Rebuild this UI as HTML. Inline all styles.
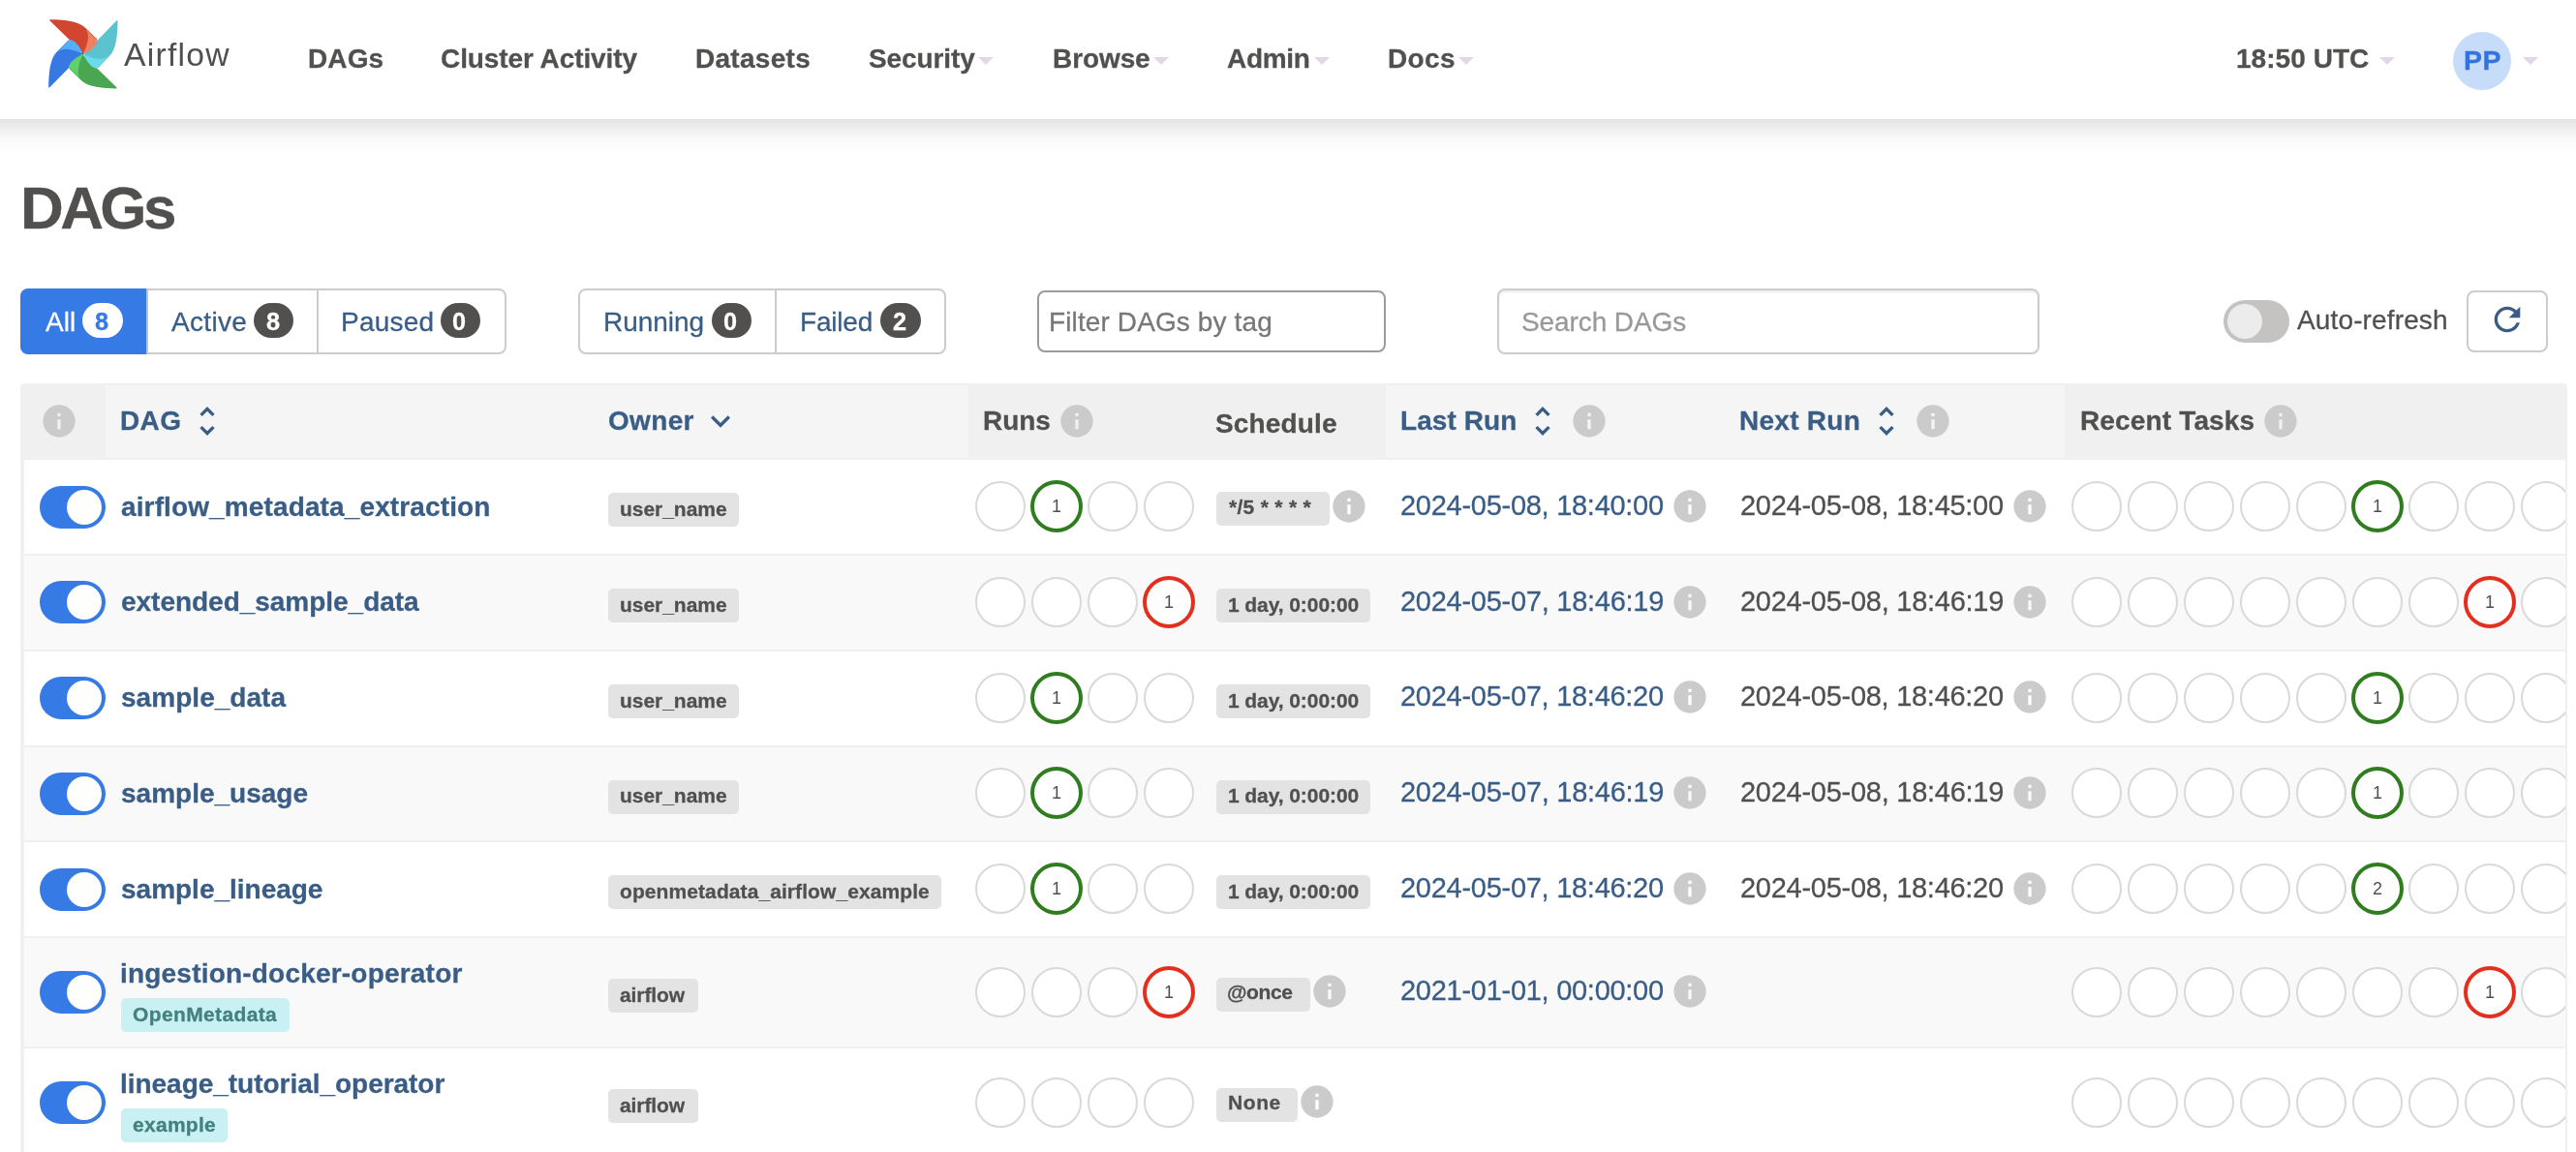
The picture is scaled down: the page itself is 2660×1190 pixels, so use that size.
<!DOCTYPE html>
<html lang="en"><head><meta charset="utf-8"><title>DAGs - Airflow</title>
<style>
html,body{margin:0;padding:0;}
body{width:2660px;height:1190px;overflow:hidden;background:#fff;position:relative;font-family:"Liberation Sans",sans-serif;color:#51504f;}
.a{position:absolute;box-sizing:border-box;}
.t{position:absolute;white-space:pre;will-change:transform;-webkit-text-stroke:0.28px;}
svg.n{will-change:transform;}
svg{display:block;overflow:visible;}
</style></head><body>

<div class="a" style="left:21px;top:396px;width:2630px;height:804px;background:#f0f0f0;border-radius:4px 4px 0 0;overflow:hidden">
<div class="a" style="left:88px;top:2px;width:891px;height:75px;background:#f5f5f5"></div>
<div class="a" style="left:1410px;top:2px;width:701px;height:75px;background:#f5f5f5"></div>
<div class="a" style="left:4px;top:79.00px;width:2624px;height:97.00px;background:#fff"></div>
<div class="a" style="left:4px;top:178.00px;width:2624px;height:96.75px;background:#f9f9f9"></div>
<div class="a" style="left:4px;top:276.75px;width:2624px;height:96.75px;background:#fff"></div>
<div class="a" style="left:4px;top:375.50px;width:2624px;height:96.75px;background:#f9f9f9"></div>
<div class="a" style="left:4px;top:474.25px;width:2624px;height:96.75px;background:#fff"></div>
<div class="a" style="left:4px;top:573.00px;width:2624px;height:112.25px;background:#f9f9f9"></div>
<div class="a" style="left:4px;top:687.25px;width:2624px;height:111.75px;background:#fff"></div>
</div>
<svg class="a" style="left:40.60px;top:414.80px" width="40" height="40" viewBox="0 0 24 24"><path fill="#cbcbcb" d="M12 2C6.48 2 2 6.48 2 12s4.48 10 10 10 10-4.48 10-10S17.52 2 12 2zm1 15h-2v-6h2v6zm0-8h-2V7h2v2z"/></svg>
<div class="t" style="left:124.18px;top:419px;font-size:28px;line-height:31px;color:#3a5d86;font-weight:bold;letter-spacing:0.369px;">DAG</div>
<svg class="a" style="left:193.75px;top:414.75px" width="40" height="40" viewBox="0 0 24 24"><path fill="#3a5d86" d="M12 5.83L15.17 9l1.41-1.41L12 3 7.41 7.59 8.83 9 12 5.83zm0 12.34L8.83 15l-1.41 1.41L12 21l4.59-4.59L15.17 15 12 18.17z"/></svg>
<div class="t" style="left:627.50px;top:419px;font-size:28px;line-height:31px;color:#3a5d86;font-weight:bold;letter-spacing:0.323px;">Owner</div>
<svg class="a" style="left:723.75px;top:415.00px" width="40" height="40" viewBox="0 0 24 24"><path fill="#3a5d86" d="M16.59 8.59L12 13.17 7.41 8.59 6 10l6 6 6-6z"/></svg>
<div class="t" style="left:1015.43px;top:419px;font-size:28px;line-height:31px;color:#51504f;font-weight:bold;letter-spacing:-0.043px;">Runs</div>
<svg class="a" style="left:1092.25px;top:415.00px" width="40" height="40" viewBox="0 0 24 24"><path fill="#cbcbcb" d="M12 2C6.48 2 2 6.48 2 12s4.48 10 10 10 10-4.48 10-10S17.52 2 12 2zm1 15h-2v-6h2v6zm0-8h-2V7h2v2z"/></svg>
<div class="t" style="left:1255.34px;top:422px;font-size:28px;line-height:31px;color:#51504f;font-weight:bold;letter-spacing:0.147px;">Schedule</div>
<div class="t" style="left:1445.93px;top:419px;font-size:28px;line-height:31px;color:#3a5d86;font-weight:bold;letter-spacing:0.076px;">Last Run</div>
<svg class="a" style="left:1573.25px;top:414.75px" width="40" height="40" viewBox="0 0 24 24"><path fill="#3a5d86" d="M12 5.83L15.17 9l1.41-1.41L12 3 7.41 7.59 8.83 9 12 5.83zm0 12.34L8.83 15l-1.41 1.41L12 21l4.59-4.59L15.17 15 12 18.17z"/></svg>
<svg class="a" style="left:1621.00px;top:415.00px" width="40" height="40" viewBox="0 0 24 24"><path fill="#cbcbcb" d="M12 2C6.48 2 2 6.48 2 12s4.48 10 10 10 10-4.48 10-10S17.52 2 12 2zm1 15h-2v-6h2v6zm0-8h-2V7h2v2z"/></svg>
<div class="t" style="left:1796.43px;top:419px;font-size:28px;line-height:31px;color:#3a5d86;font-weight:bold;letter-spacing:0.273px;">Next Run</div>
<svg class="a" style="left:1928.00px;top:414.75px" width="40" height="40" viewBox="0 0 24 24"><path fill="#3a5d86" d="M12 5.83L15.17 9l1.41-1.41L12 3 7.41 7.59 8.83 9 12 5.83zm0 12.34L8.83 15l-1.41 1.41L12 21l4.59-4.59L15.17 15 12 18.17z"/></svg>
<svg class="a" style="left:1975.75px;top:415.00px" width="40" height="40" viewBox="0 0 24 24"><path fill="#cbcbcb" d="M12 2C6.48 2 2 6.48 2 12s4.48 10 10 10 10-4.48 10-10S17.52 2 12 2zm1 15h-2v-6h2v6zm0-8h-2V7h2v2z"/></svg>
<div class="t" style="left:2147.68px;top:419px;font-size:28px;line-height:31px;color:#51504f;font-weight:bold;letter-spacing:0.151px;">Recent Tasks</div>
<svg class="a" style="left:2334.75px;top:415.00px" width="40" height="40" viewBox="0 0 24 24"><path fill="#cbcbcb" d="M12 2C6.48 2 2 6.48 2 12s4.48 10 10 10 10-4.48 10-10S17.52 2 12 2zm1 15h-2v-6h2v6zm0-8h-2V7h2v2z"/></svg>
<div class="a" style="left:0;top:0;width:2649px;height:1190px;overflow:hidden">
<div class="a" style="left:41px;top:502.00px;width:68px;height:44px;border-radius:22px;background:#367ae6"><div class="a" style="left:28px;top:4px;width:36px;height:36px;border-radius:18px;background:#fefefd"></div></div>
<div class="t" style="left:124.83px;top:508px;font-size:28px;line-height:31px;color:#3a5d86;font-weight:bold;letter-spacing:0.126px;">airflow_metadata_extraction</div>
<div class="a" style="left:628px;top:509.00px;width:135px;height:34.5px;border-radius:5px;background:#e3e3e3"></div>
<div class="t" style="left:639.50px;top:514px;font-size:21px;line-height:23px;color:#51504f;font-weight:bold;letter-spacing:-0.034px;">user_name</div>
<svg class="a" style="left:1005.00px;top:495.00px" width="56" height="56" viewBox="-28 -28 56 56"><circle r="25" fill="#fff" stroke="#d9d9d9" stroke-width="2"/></svg>
<svg class="a n" style="left:1063.00px;top:495.00px" width="56" height="56" viewBox="-28 -28 56 56"><circle r="25" fill="#fff" stroke="#2f7d1f" stroke-width="4"/><text x="0" y="5.8" text-anchor="middle" font-family="Liberation Sans, sans-serif" font-size="18" fill="#51504f">1</text></svg>
<svg class="a" style="left:1121.00px;top:495.00px" width="56" height="56" viewBox="-28 -28 56 56"><circle r="25" fill="#fff" stroke="#d9d9d9" stroke-width="2"/></svg>
<svg class="a" style="left:1179.00px;top:495.00px" width="56" height="56" viewBox="-28 -28 56 56"><circle r="25" fill="#fff" stroke="#d9d9d9" stroke-width="2"/></svg>
<div class="a" style="left:1256.25px;top:508.00px;width:116.25px;height:35px;border-radius:5px;background:#e3e3e3"></div>
<div class="t" style="left:1268.59px;top:512px;font-size:21px;line-height:23px;color:#51504f;font-weight:bold;letter-spacing:0.297px;">*/5 * * * *</div>
<svg class="a" style="left:1372.70px;top:502.60px" width="40" height="40" viewBox="0 0 24 24"><path fill="#cbcbcb" d="M12 2C6.48 2 2 6.48 2 12s4.48 10 10 10 10-4.48 10-10S17.52 2 12 2zm1 15h-2v-6h2v6zm0-8h-2V7h2v2z"/></svg>
<div class="t" style="left:1446.44px;top:506px;font-size:29px;line-height:32px;color:#3a5d86;letter-spacing:-0.276px;">2024-05-08, 18:40:00</div>
<svg class="a" style="left:1725.25px;top:502.70px" width="40" height="40" viewBox="0 0 24 24"><path fill="#cbcbcb" d="M12 2C6.48 2 2 6.48 2 12s4.48 10 10 10 10-4.48 10-10S17.52 2 12 2zm1 15h-2v-6h2v6zm0-8h-2V7h2v2z"/></svg>
<div class="t" style="left:1796.94px;top:506px;font-size:29px;line-height:32px;color:#51504f;letter-spacing:-0.276px;">2024-05-08, 18:45:00</div>
<svg class="a" style="left:2076.00px;top:502.70px" width="40" height="40" viewBox="0 0 24 24"><path fill="#cbcbcb" d="M12 2C6.48 2 2 6.48 2 12s4.48 10 10 10 10-4.48 10-10S17.52 2 12 2zm1 15h-2v-6h2v6zm0-8h-2V7h2v2z"/></svg>
<svg class="a" style="left:2137.00px;top:495.00px" width="56" height="56" viewBox="-28 -28 56 56"><circle r="25" fill="#fff" stroke="#d9d9d9" stroke-width="2"/></svg>
<svg class="a" style="left:2195.00px;top:495.00px" width="56" height="56" viewBox="-28 -28 56 56"><circle r="25" fill="#fff" stroke="#d9d9d9" stroke-width="2"/></svg>
<svg class="a" style="left:2253.00px;top:495.00px" width="56" height="56" viewBox="-28 -28 56 56"><circle r="25" fill="#fff" stroke="#d9d9d9" stroke-width="2"/></svg>
<svg class="a" style="left:2311.00px;top:495.00px" width="56" height="56" viewBox="-28 -28 56 56"><circle r="25" fill="#fff" stroke="#d9d9d9" stroke-width="2"/></svg>
<svg class="a" style="left:2369.00px;top:495.00px" width="56" height="56" viewBox="-28 -28 56 56"><circle r="25" fill="#fff" stroke="#d9d9d9" stroke-width="2"/></svg>
<svg class="a n" style="left:2427.00px;top:495.00px" width="56" height="56" viewBox="-28 -28 56 56"><circle r="25" fill="#fff" stroke="#2f7d1f" stroke-width="4"/><text x="0" y="5.8" text-anchor="middle" font-family="Liberation Sans, sans-serif" font-size="18" fill="#51504f">1</text></svg>
<svg class="a" style="left:2485.00px;top:495.00px" width="56" height="56" viewBox="-28 -28 56 56"><circle r="25" fill="#fff" stroke="#d9d9d9" stroke-width="2"/></svg>
<svg class="a" style="left:2543.00px;top:495.00px" width="56" height="56" viewBox="-28 -28 56 56"><circle r="25" fill="#fff" stroke="#d9d9d9" stroke-width="2"/></svg>
<svg class="a" style="left:2601.00px;top:495.00px" width="56" height="56" viewBox="-28 -28 56 56"><circle r="25" fill="#fff" stroke="#d9d9d9" stroke-width="2"/></svg>
<div class="a" style="left:41px;top:600.00px;width:68px;height:44px;border-radius:22px;background:#367ae6"><div class="a" style="left:28px;top:4px;width:36px;height:36px;border-radius:18px;background:#fefefd"></div></div>
<div class="t" style="left:124.56px;top:606px;font-size:28px;line-height:31px;color:#3a5d86;font-weight:bold;letter-spacing:-0.025px;">extended_sample_data</div>
<div class="a" style="left:628px;top:608.00px;width:135px;height:34.5px;border-radius:5px;background:#e3e3e3"></div>
<div class="t" style="left:639.50px;top:613px;font-size:21px;line-height:23px;color:#51504f;font-weight:bold;letter-spacing:-0.034px;">user_name</div>
<svg class="a" style="left:1005.00px;top:593.88px" width="56" height="56" viewBox="-28 -28 56 56"><circle r="25" fill="#fff" stroke="#d9d9d9" stroke-width="2"/></svg>
<svg class="a" style="left:1063.00px;top:593.88px" width="56" height="56" viewBox="-28 -28 56 56"><circle r="25" fill="#fff" stroke="#d9d9d9" stroke-width="2"/></svg>
<svg class="a" style="left:1121.00px;top:593.88px" width="56" height="56" viewBox="-28 -28 56 56"><circle r="25" fill="#fff" stroke="#d9d9d9" stroke-width="2"/></svg>
<svg class="a n" style="left:1179.00px;top:593.88px" width="56" height="56" viewBox="-28 -28 56 56"><circle r="25" fill="#fff" stroke="#e42f1e" stroke-width="4"/><text x="0" y="5.8" text-anchor="middle" font-family="Liberation Sans, sans-serif" font-size="18" fill="#51504f">1</text></svg>
<div class="a" style="left:1256.25px;top:608.00px;width:158.25px;height:34.5px;border-radius:5px;background:#e3e3e3"></div>
<div class="t" style="left:1268.08px;top:613px;font-size:21px;line-height:23px;color:#51504f;font-weight:bold;letter-spacing:-0.078px;">1 day, 0:00:00</div>
<div class="t" style="left:1446.44px;top:605px;font-size:29px;line-height:32px;color:#3a5d86;letter-spacing:-0.264px;">2024-05-07, 18:46:19</div>
<svg class="a" style="left:1725.25px;top:601.58px" width="40" height="40" viewBox="0 0 24 24"><path fill="#cbcbcb" d="M12 2C6.48 2 2 6.48 2 12s4.48 10 10 10 10-4.48 10-10S17.52 2 12 2zm1 15h-2v-6h2v6zm0-8h-2V7h2v2z"/></svg>
<div class="t" style="left:1796.94px;top:605px;font-size:29px;line-height:32px;color:#51504f;letter-spacing:-0.264px;">2024-05-08, 18:46:19</div>
<svg class="a" style="left:2076.00px;top:601.58px" width="40" height="40" viewBox="0 0 24 24"><path fill="#cbcbcb" d="M12 2C6.48 2 2 6.48 2 12s4.48 10 10 10 10-4.48 10-10S17.52 2 12 2zm1 15h-2v-6h2v6zm0-8h-2V7h2v2z"/></svg>
<svg class="a" style="left:2137.00px;top:593.88px" width="56" height="56" viewBox="-28 -28 56 56"><circle r="25" fill="#fff" stroke="#d9d9d9" stroke-width="2"/></svg>
<svg class="a" style="left:2195.00px;top:593.88px" width="56" height="56" viewBox="-28 -28 56 56"><circle r="25" fill="#fff" stroke="#d9d9d9" stroke-width="2"/></svg>
<svg class="a" style="left:2253.00px;top:593.88px" width="56" height="56" viewBox="-28 -28 56 56"><circle r="25" fill="#fff" stroke="#d9d9d9" stroke-width="2"/></svg>
<svg class="a" style="left:2311.00px;top:593.88px" width="56" height="56" viewBox="-28 -28 56 56"><circle r="25" fill="#fff" stroke="#d9d9d9" stroke-width="2"/></svg>
<svg class="a" style="left:2369.00px;top:593.88px" width="56" height="56" viewBox="-28 -28 56 56"><circle r="25" fill="#fff" stroke="#d9d9d9" stroke-width="2"/></svg>
<svg class="a" style="left:2427.00px;top:593.88px" width="56" height="56" viewBox="-28 -28 56 56"><circle r="25" fill="#fff" stroke="#d9d9d9" stroke-width="2"/></svg>
<svg class="a" style="left:2485.00px;top:593.88px" width="56" height="56" viewBox="-28 -28 56 56"><circle r="25" fill="#fff" stroke="#d9d9d9" stroke-width="2"/></svg>
<svg class="a n" style="left:2543.00px;top:593.88px" width="56" height="56" viewBox="-28 -28 56 56"><circle r="25" fill="#fff" stroke="#e42f1e" stroke-width="4"/><text x="0" y="5.8" text-anchor="middle" font-family="Liberation Sans, sans-serif" font-size="18" fill="#51504f">1</text></svg>
<svg class="a" style="left:2601.00px;top:593.88px" width="56" height="56" viewBox="-28 -28 56 56"><circle r="25" fill="#fff" stroke="#d9d9d9" stroke-width="2"/></svg>
<div class="a" style="left:41px;top:699.00px;width:68px;height:44px;border-radius:22px;background:#367ae6"><div class="a" style="left:28px;top:4px;width:36px;height:36px;border-radius:18px;background:#fefefd"></div></div>
<div class="t" style="left:124.67px;top:705px;font-size:28px;line-height:31px;color:#3a5d86;font-weight:bold;letter-spacing:0.042px;">sample_data</div>
<div class="a" style="left:628px;top:707.00px;width:135px;height:34.5px;border-radius:5px;background:#e3e3e3"></div>
<div class="t" style="left:639.50px;top:712px;font-size:21px;line-height:23px;color:#51504f;font-weight:bold;letter-spacing:-0.034px;">user_name</div>
<svg class="a" style="left:1005.00px;top:692.62px" width="56" height="56" viewBox="-28 -28 56 56"><circle r="25" fill="#fff" stroke="#d9d9d9" stroke-width="2"/></svg>
<svg class="a n" style="left:1063.00px;top:692.62px" width="56" height="56" viewBox="-28 -28 56 56"><circle r="25" fill="#fff" stroke="#2f7d1f" stroke-width="4"/><text x="0" y="5.8" text-anchor="middle" font-family="Liberation Sans, sans-serif" font-size="18" fill="#51504f">1</text></svg>
<svg class="a" style="left:1121.00px;top:692.62px" width="56" height="56" viewBox="-28 -28 56 56"><circle r="25" fill="#fff" stroke="#d9d9d9" stroke-width="2"/></svg>
<svg class="a" style="left:1179.00px;top:692.62px" width="56" height="56" viewBox="-28 -28 56 56"><circle r="25" fill="#fff" stroke="#d9d9d9" stroke-width="2"/></svg>
<div class="a" style="left:1256.25px;top:707.00px;width:158.25px;height:34.5px;border-radius:5px;background:#e3e3e3"></div>
<div class="t" style="left:1268.08px;top:712px;font-size:21px;line-height:23px;color:#51504f;font-weight:bold;letter-spacing:-0.078px;">1 day, 0:00:00</div>
<div class="t" style="left:1446.44px;top:703px;font-size:29px;line-height:32px;color:#3a5d86;letter-spacing:-0.276px;">2024-05-07, 18:46:20</div>
<svg class="a" style="left:1725.25px;top:700.33px" width="40" height="40" viewBox="0 0 24 24"><path fill="#cbcbcb" d="M12 2C6.48 2 2 6.48 2 12s4.48 10 10 10 10-4.48 10-10S17.52 2 12 2zm1 15h-2v-6h2v6zm0-8h-2V7h2v2z"/></svg>
<div class="t" style="left:1796.94px;top:703px;font-size:29px;line-height:32px;color:#51504f;letter-spacing:-0.276px;">2024-05-08, 18:46:20</div>
<svg class="a" style="left:2076.00px;top:700.33px" width="40" height="40" viewBox="0 0 24 24"><path fill="#cbcbcb" d="M12 2C6.48 2 2 6.48 2 12s4.48 10 10 10 10-4.48 10-10S17.52 2 12 2zm1 15h-2v-6h2v6zm0-8h-2V7h2v2z"/></svg>
<svg class="a" style="left:2137.00px;top:692.62px" width="56" height="56" viewBox="-28 -28 56 56"><circle r="25" fill="#fff" stroke="#d9d9d9" stroke-width="2"/></svg>
<svg class="a" style="left:2195.00px;top:692.62px" width="56" height="56" viewBox="-28 -28 56 56"><circle r="25" fill="#fff" stroke="#d9d9d9" stroke-width="2"/></svg>
<svg class="a" style="left:2253.00px;top:692.62px" width="56" height="56" viewBox="-28 -28 56 56"><circle r="25" fill="#fff" stroke="#d9d9d9" stroke-width="2"/></svg>
<svg class="a" style="left:2311.00px;top:692.62px" width="56" height="56" viewBox="-28 -28 56 56"><circle r="25" fill="#fff" stroke="#d9d9d9" stroke-width="2"/></svg>
<svg class="a" style="left:2369.00px;top:692.62px" width="56" height="56" viewBox="-28 -28 56 56"><circle r="25" fill="#fff" stroke="#d9d9d9" stroke-width="2"/></svg>
<svg class="a n" style="left:2427.00px;top:692.62px" width="56" height="56" viewBox="-28 -28 56 56"><circle r="25" fill="#fff" stroke="#2f7d1f" stroke-width="4"/><text x="0" y="5.8" text-anchor="middle" font-family="Liberation Sans, sans-serif" font-size="18" fill="#51504f">1</text></svg>
<svg class="a" style="left:2485.00px;top:692.62px" width="56" height="56" viewBox="-28 -28 56 56"><circle r="25" fill="#fff" stroke="#d9d9d9" stroke-width="2"/></svg>
<svg class="a" style="left:2543.00px;top:692.62px" width="56" height="56" viewBox="-28 -28 56 56"><circle r="25" fill="#fff" stroke="#d9d9d9" stroke-width="2"/></svg>
<svg class="a" style="left:2601.00px;top:692.62px" width="56" height="56" viewBox="-28 -28 56 56"><circle r="25" fill="#fff" stroke="#d9d9d9" stroke-width="2"/></svg>
<div class="a" style="left:41px;top:798.00px;width:68px;height:44px;border-radius:22px;background:#367ae6"><div class="a" style="left:28px;top:4px;width:36px;height:36px;border-radius:18px;background:#fefefd"></div></div>
<div class="t" style="left:124.67px;top:804px;font-size:28px;line-height:31px;color:#3a5d86;font-weight:bold;">sample_usage</div>
<div class="a" style="left:628px;top:806.00px;width:135px;height:34.5px;border-radius:5px;background:#e3e3e3"></div>
<div class="t" style="left:639.50px;top:810px;font-size:21px;line-height:23px;color:#51504f;font-weight:bold;letter-spacing:-0.034px;">user_name</div>
<svg class="a" style="left:1005.00px;top:791.38px" width="56" height="56" viewBox="-28 -28 56 56"><circle r="25" fill="#fff" stroke="#d9d9d9" stroke-width="2"/></svg>
<svg class="a n" style="left:1063.00px;top:791.38px" width="56" height="56" viewBox="-28 -28 56 56"><circle r="25" fill="#fff" stroke="#2f7d1f" stroke-width="4"/><text x="0" y="5.8" text-anchor="middle" font-family="Liberation Sans, sans-serif" font-size="18" fill="#51504f">1</text></svg>
<svg class="a" style="left:1121.00px;top:791.38px" width="56" height="56" viewBox="-28 -28 56 56"><circle r="25" fill="#fff" stroke="#d9d9d9" stroke-width="2"/></svg>
<svg class="a" style="left:1179.00px;top:791.38px" width="56" height="56" viewBox="-28 -28 56 56"><circle r="25" fill="#fff" stroke="#d9d9d9" stroke-width="2"/></svg>
<div class="a" style="left:1256.25px;top:806.00px;width:158.25px;height:34.5px;border-radius:5px;background:#e3e3e3"></div>
<div class="t" style="left:1268.08px;top:810px;font-size:21px;line-height:23px;color:#51504f;font-weight:bold;letter-spacing:-0.078px;">1 day, 0:00:00</div>
<div class="t" style="left:1446.44px;top:802px;font-size:29px;line-height:32px;color:#3a5d86;letter-spacing:-0.264px;">2024-05-07, 18:46:19</div>
<svg class="a" style="left:1725.25px;top:799.08px" width="40" height="40" viewBox="0 0 24 24"><path fill="#cbcbcb" d="M12 2C6.48 2 2 6.48 2 12s4.48 10 10 10 10-4.48 10-10S17.52 2 12 2zm1 15h-2v-6h2v6zm0-8h-2V7h2v2z"/></svg>
<div class="t" style="left:1796.94px;top:802px;font-size:29px;line-height:32px;color:#51504f;letter-spacing:-0.264px;">2024-05-08, 18:46:19</div>
<svg class="a" style="left:2076.00px;top:799.08px" width="40" height="40" viewBox="0 0 24 24"><path fill="#cbcbcb" d="M12 2C6.48 2 2 6.48 2 12s4.48 10 10 10 10-4.48 10-10S17.52 2 12 2zm1 15h-2v-6h2v6zm0-8h-2V7h2v2z"/></svg>
<svg class="a" style="left:2137.00px;top:791.38px" width="56" height="56" viewBox="-28 -28 56 56"><circle r="25" fill="#fff" stroke="#d9d9d9" stroke-width="2"/></svg>
<svg class="a" style="left:2195.00px;top:791.38px" width="56" height="56" viewBox="-28 -28 56 56"><circle r="25" fill="#fff" stroke="#d9d9d9" stroke-width="2"/></svg>
<svg class="a" style="left:2253.00px;top:791.38px" width="56" height="56" viewBox="-28 -28 56 56"><circle r="25" fill="#fff" stroke="#d9d9d9" stroke-width="2"/></svg>
<svg class="a" style="left:2311.00px;top:791.38px" width="56" height="56" viewBox="-28 -28 56 56"><circle r="25" fill="#fff" stroke="#d9d9d9" stroke-width="2"/></svg>
<svg class="a" style="left:2369.00px;top:791.38px" width="56" height="56" viewBox="-28 -28 56 56"><circle r="25" fill="#fff" stroke="#d9d9d9" stroke-width="2"/></svg>
<svg class="a n" style="left:2427.00px;top:791.38px" width="56" height="56" viewBox="-28 -28 56 56"><circle r="25" fill="#fff" stroke="#2f7d1f" stroke-width="4"/><text x="0" y="5.8" text-anchor="middle" font-family="Liberation Sans, sans-serif" font-size="18" fill="#51504f">1</text></svg>
<svg class="a" style="left:2485.00px;top:791.38px" width="56" height="56" viewBox="-28 -28 56 56"><circle r="25" fill="#fff" stroke="#d9d9d9" stroke-width="2"/></svg>
<svg class="a" style="left:2543.00px;top:791.38px" width="56" height="56" viewBox="-28 -28 56 56"><circle r="25" fill="#fff" stroke="#d9d9d9" stroke-width="2"/></svg>
<svg class="a" style="left:2601.00px;top:791.38px" width="56" height="56" viewBox="-28 -28 56 56"><circle r="25" fill="#fff" stroke="#d9d9d9" stroke-width="2"/></svg>
<div class="a" style="left:41px;top:897.00px;width:68px;height:44px;border-radius:22px;background:#367ae6"><div class="a" style="left:28px;top:4px;width:36px;height:36px;border-radius:18px;background:#fefefd"></div></div>
<div class="t" style="left:124.67px;top:903px;font-size:28px;line-height:31px;color:#3a5d86;font-weight:bold;letter-spacing:-0.008px;">sample_lineage</div>
<div class="a" style="left:628px;top:904.00px;width:343.75px;height:34.5px;border-radius:5px;background:#e3e3e3"></div>
<div class="t" style="left:639.58px;top:909px;font-size:21px;line-height:23px;color:#51504f;font-weight:bold;letter-spacing:0.087px;">openmetadata_airflow_example</div>
<svg class="a" style="left:1005.00px;top:890.12px" width="56" height="56" viewBox="-28 -28 56 56"><circle r="25" fill="#fff" stroke="#d9d9d9" stroke-width="2"/></svg>
<svg class="a n" style="left:1063.00px;top:890.12px" width="56" height="56" viewBox="-28 -28 56 56"><circle r="25" fill="#fff" stroke="#2f7d1f" stroke-width="4"/><text x="0" y="5.8" text-anchor="middle" font-family="Liberation Sans, sans-serif" font-size="18" fill="#51504f">1</text></svg>
<svg class="a" style="left:1121.00px;top:890.12px" width="56" height="56" viewBox="-28 -28 56 56"><circle r="25" fill="#fff" stroke="#d9d9d9" stroke-width="2"/></svg>
<svg class="a" style="left:1179.00px;top:890.12px" width="56" height="56" viewBox="-28 -28 56 56"><circle r="25" fill="#fff" stroke="#d9d9d9" stroke-width="2"/></svg>
<div class="a" style="left:1256.25px;top:904.00px;width:158.25px;height:34.5px;border-radius:5px;background:#e3e3e3"></div>
<div class="t" style="left:1268.08px;top:909px;font-size:21px;line-height:23px;color:#51504f;font-weight:bold;letter-spacing:-0.078px;">1 day, 0:00:00</div>
<div class="t" style="left:1446.44px;top:901px;font-size:29px;line-height:32px;color:#3a5d86;letter-spacing:-0.276px;">2024-05-07, 18:46:20</div>
<svg class="a" style="left:1725.25px;top:897.83px" width="40" height="40" viewBox="0 0 24 24"><path fill="#cbcbcb" d="M12 2C6.48 2 2 6.48 2 12s4.48 10 10 10 10-4.48 10-10S17.52 2 12 2zm1 15h-2v-6h2v6zm0-8h-2V7h2v2z"/></svg>
<div class="t" style="left:1796.94px;top:901px;font-size:29px;line-height:32px;color:#51504f;letter-spacing:-0.276px;">2024-05-08, 18:46:20</div>
<svg class="a" style="left:2076.00px;top:897.83px" width="40" height="40" viewBox="0 0 24 24"><path fill="#cbcbcb" d="M12 2C6.48 2 2 6.48 2 12s4.48 10 10 10 10-4.48 10-10S17.52 2 12 2zm1 15h-2v-6h2v6zm0-8h-2V7h2v2z"/></svg>
<svg class="a" style="left:2137.00px;top:890.12px" width="56" height="56" viewBox="-28 -28 56 56"><circle r="25" fill="#fff" stroke="#d9d9d9" stroke-width="2"/></svg>
<svg class="a" style="left:2195.00px;top:890.12px" width="56" height="56" viewBox="-28 -28 56 56"><circle r="25" fill="#fff" stroke="#d9d9d9" stroke-width="2"/></svg>
<svg class="a" style="left:2253.00px;top:890.12px" width="56" height="56" viewBox="-28 -28 56 56"><circle r="25" fill="#fff" stroke="#d9d9d9" stroke-width="2"/></svg>
<svg class="a" style="left:2311.00px;top:890.12px" width="56" height="56" viewBox="-28 -28 56 56"><circle r="25" fill="#fff" stroke="#d9d9d9" stroke-width="2"/></svg>
<svg class="a" style="left:2369.00px;top:890.12px" width="56" height="56" viewBox="-28 -28 56 56"><circle r="25" fill="#fff" stroke="#d9d9d9" stroke-width="2"/></svg>
<svg class="a n" style="left:2427.00px;top:890.12px" width="56" height="56" viewBox="-28 -28 56 56"><circle r="25" fill="#fff" stroke="#2f7d1f" stroke-width="4"/><text x="0" y="5.8" text-anchor="middle" font-family="Liberation Sans, sans-serif" font-size="18" fill="#51504f">2</text></svg>
<svg class="a" style="left:2485.00px;top:890.12px" width="56" height="56" viewBox="-28 -28 56 56"><circle r="25" fill="#fff" stroke="#d9d9d9" stroke-width="2"/></svg>
<svg class="a" style="left:2543.00px;top:890.12px" width="56" height="56" viewBox="-28 -28 56 56"><circle r="25" fill="#fff" stroke="#d9d9d9" stroke-width="2"/></svg>
<svg class="a" style="left:2601.00px;top:890.12px" width="56" height="56" viewBox="-28 -28 56 56"><circle r="25" fill="#fff" stroke="#d9d9d9" stroke-width="2"/></svg>
<div class="a" style="left:41px;top:1003.00px;width:68px;height:44px;border-radius:22px;background:#367ae6"><div class="a" style="left:28px;top:4px;width:36px;height:36px;border-radius:18px;background:#fefefd"></div></div>
<div class="t" style="left:124.09px;top:990px;font-size:28px;line-height:31px;color:#3a5d86;font-weight:bold;letter-spacing:0.202px;">ingestion-docker-operator</div>
<div class="a" style="left:125px;top:1031.00px;width:174px;height:34.5px;border-radius:5px;background:#c9f0f2"></div>
<div class="t" style="left:137.04px;top:1036px;font-size:21px;line-height:23px;color:#43807e;font-weight:bold;letter-spacing:0.367px;">OpenMetadata</div>
<div class="a" style="left:628px;top:1011.00px;width:92.75px;height:34.5px;border-radius:5px;background:#e3e3e3"></div>
<div class="t" style="left:639.78px;top:1016px;font-size:21px;line-height:23px;color:#51504f;font-weight:bold;letter-spacing:-0.084px;">airflow</div>
<svg class="a" style="left:1005.00px;top:996.62px" width="56" height="56" viewBox="-28 -28 56 56"><circle r="25" fill="#fff" stroke="#d9d9d9" stroke-width="2"/></svg>
<svg class="a" style="left:1063.00px;top:996.62px" width="56" height="56" viewBox="-28 -28 56 56"><circle r="25" fill="#fff" stroke="#d9d9d9" stroke-width="2"/></svg>
<svg class="a" style="left:1121.00px;top:996.62px" width="56" height="56" viewBox="-28 -28 56 56"><circle r="25" fill="#fff" stroke="#d9d9d9" stroke-width="2"/></svg>
<svg class="a n" style="left:1179.00px;top:996.62px" width="56" height="56" viewBox="-28 -28 56 56"><circle r="25" fill="#fff" stroke="#e42f1e" stroke-width="4"/><text x="0" y="5.8" text-anchor="middle" font-family="Liberation Sans, sans-serif" font-size="18" fill="#51504f">1</text></svg>
<div class="a" style="left:1256.25px;top:1010.00px;width:96.75px;height:35px;border-radius:5px;background:#e3e3e3"></div>
<div class="t" style="left:1267.45px;top:1013px;font-size:21px;line-height:23px;color:#51504f;font-weight:bold;letter-spacing:-0.393px;">@once</div>
<svg class="a" style="left:1353.20px;top:1004.22px" width="40" height="40" viewBox="0 0 24 24"><path fill="#cbcbcb" d="M12 2C6.48 2 2 6.48 2 12s4.48 10 10 10 10-4.48 10-10S17.52 2 12 2zm1 15h-2v-6h2v6zm0-8h-2V7h2v2z"/></svg>
<div class="t" style="left:1446.44px;top:1007px;font-size:29px;line-height:32px;color:#3a5d86;letter-spacing:-0.276px;">2021-01-01, 00:00:00</div>
<svg class="a" style="left:1725.25px;top:1004.33px" width="40" height="40" viewBox="0 0 24 24"><path fill="#cbcbcb" d="M12 2C6.48 2 2 6.48 2 12s4.48 10 10 10 10-4.48 10-10S17.52 2 12 2zm1 15h-2v-6h2v6zm0-8h-2V7h2v2z"/></svg>
<svg class="a" style="left:2137.00px;top:996.62px" width="56" height="56" viewBox="-28 -28 56 56"><circle r="25" fill="#fff" stroke="#d9d9d9" stroke-width="2"/></svg>
<svg class="a" style="left:2195.00px;top:996.62px" width="56" height="56" viewBox="-28 -28 56 56"><circle r="25" fill="#fff" stroke="#d9d9d9" stroke-width="2"/></svg>
<svg class="a" style="left:2253.00px;top:996.62px" width="56" height="56" viewBox="-28 -28 56 56"><circle r="25" fill="#fff" stroke="#d9d9d9" stroke-width="2"/></svg>
<svg class="a" style="left:2311.00px;top:996.62px" width="56" height="56" viewBox="-28 -28 56 56"><circle r="25" fill="#fff" stroke="#d9d9d9" stroke-width="2"/></svg>
<svg class="a" style="left:2369.00px;top:996.62px" width="56" height="56" viewBox="-28 -28 56 56"><circle r="25" fill="#fff" stroke="#d9d9d9" stroke-width="2"/></svg>
<svg class="a" style="left:2427.00px;top:996.62px" width="56" height="56" viewBox="-28 -28 56 56"><circle r="25" fill="#fff" stroke="#d9d9d9" stroke-width="2"/></svg>
<svg class="a" style="left:2485.00px;top:996.62px" width="56" height="56" viewBox="-28 -28 56 56"><circle r="25" fill="#fff" stroke="#d9d9d9" stroke-width="2"/></svg>
<svg class="a n" style="left:2543.00px;top:996.62px" width="56" height="56" viewBox="-28 -28 56 56"><circle r="25" fill="#fff" stroke="#e42f1e" stroke-width="4"/><text x="0" y="5.8" text-anchor="middle" font-family="Liberation Sans, sans-serif" font-size="18" fill="#51504f">1</text></svg>
<svg class="a" style="left:2601.00px;top:996.62px" width="56" height="56" viewBox="-28 -28 56 56"><circle r="25" fill="#fff" stroke="#d9d9d9" stroke-width="2"/></svg>
<div class="a" style="left:41px;top:1117.00px;width:68px;height:44px;border-radius:22px;background:#367ae6"><div class="a" style="left:28px;top:4px;width:36px;height:36px;border-radius:18px;background:#fefefd"></div></div>
<div class="t" style="left:124.09px;top:1104px;font-size:28px;line-height:31px;color:#3a5d86;font-weight:bold;letter-spacing:-0.031px;">lineage_tutorial_operator</div>
<div class="a" style="left:125px;top:1145.00px;width:110px;height:34.5px;border-radius:5px;background:#c9f0f2"></div>
<div class="t" style="left:137.08px;top:1150px;font-size:21px;line-height:23px;color:#43807e;font-weight:bold;letter-spacing:0.289px;">example</div>
<div class="a" style="left:628px;top:1125.00px;width:92.75px;height:34.5px;border-radius:5px;background:#e3e3e3"></div>
<div class="t" style="left:639.78px;top:1130px;font-size:21px;line-height:23px;color:#51504f;font-weight:bold;letter-spacing:-0.084px;">airflow</div>
<svg class="a" style="left:1005.00px;top:1110.62px" width="56" height="56" viewBox="-28 -28 56 56"><circle r="25" fill="#fff" stroke="#d9d9d9" stroke-width="2"/></svg>
<svg class="a" style="left:1063.00px;top:1110.62px" width="56" height="56" viewBox="-28 -28 56 56"><circle r="25" fill="#fff" stroke="#d9d9d9" stroke-width="2"/></svg>
<svg class="a" style="left:1121.00px;top:1110.62px" width="56" height="56" viewBox="-28 -28 56 56"><circle r="25" fill="#fff" stroke="#d9d9d9" stroke-width="2"/></svg>
<svg class="a" style="left:1179.00px;top:1110.62px" width="56" height="56" viewBox="-28 -28 56 56"><circle r="25" fill="#fff" stroke="#d9d9d9" stroke-width="2"/></svg>
<div class="a" style="left:1256.25px;top:1124.00px;width:83.75px;height:35px;border-radius:5px;background:#e3e3e3"></div>
<div class="t" style="left:1268.15px;top:1127px;font-size:21px;line-height:23px;color:#51504f;font-weight:bold;letter-spacing:0.574px;">None</div>
<svg class="a" style="left:1340.20px;top:1118.22px" width="40" height="40" viewBox="0 0 24 24"><path fill="#cbcbcb" d="M12 2C6.48 2 2 6.48 2 12s4.48 10 10 10 10-4.48 10-10S17.52 2 12 2zm1 15h-2v-6h2v6zm0-8h-2V7h2v2z"/></svg>
<svg class="a" style="left:2137.00px;top:1110.62px" width="56" height="56" viewBox="-28 -28 56 56"><circle r="25" fill="#fff" stroke="#d9d9d9" stroke-width="2"/></svg>
<svg class="a" style="left:2195.00px;top:1110.62px" width="56" height="56" viewBox="-28 -28 56 56"><circle r="25" fill="#fff" stroke="#d9d9d9" stroke-width="2"/></svg>
<svg class="a" style="left:2253.00px;top:1110.62px" width="56" height="56" viewBox="-28 -28 56 56"><circle r="25" fill="#fff" stroke="#d9d9d9" stroke-width="2"/></svg>
<svg class="a" style="left:2311.00px;top:1110.62px" width="56" height="56" viewBox="-28 -28 56 56"><circle r="25" fill="#fff" stroke="#d9d9d9" stroke-width="2"/></svg>
<svg class="a" style="left:2369.00px;top:1110.62px" width="56" height="56" viewBox="-28 -28 56 56"><circle r="25" fill="#fff" stroke="#d9d9d9" stroke-width="2"/></svg>
<svg class="a" style="left:2427.00px;top:1110.62px" width="56" height="56" viewBox="-28 -28 56 56"><circle r="25" fill="#fff" stroke="#d9d9d9" stroke-width="2"/></svg>
<svg class="a" style="left:2485.00px;top:1110.62px" width="56" height="56" viewBox="-28 -28 56 56"><circle r="25" fill="#fff" stroke="#d9d9d9" stroke-width="2"/></svg>
<svg class="a" style="left:2543.00px;top:1110.62px" width="56" height="56" viewBox="-28 -28 56 56"><circle r="25" fill="#fff" stroke="#d9d9d9" stroke-width="2"/></svg>
<svg class="a" style="left:2601.00px;top:1110.62px" width="56" height="56" viewBox="-28 -28 56 56"><circle r="25" fill="#fff" stroke="#d9d9d9" stroke-width="2"/></svg>
</div>
<div class="a" style="left:21px;top:298px;width:502px;height:67.5px;border:2px solid #ccc;border-radius:8px;background:#fff"></div>
<div class="a" style="left:21px;top:298px;width:130px;height:67.5px;border-radius:8px 0 0 8px;background:#367ae6"></div>
<div class="a" style="left:151px;top:298px;width:2px;height:67.5px;background:#c4c4c4"></div>
<div class="a" style="left:327px;top:298px;width:2px;height:67.5px;background:#ccc"></div>
<div class="t" style="left:46.75px;top:317px;font-size:28px;line-height:31px;color:#fff;letter-spacing:0.005px;">All</div>
<div class="a" style="left:85px;top:313px;width:42px;height:35.75px;border-radius:18px;background:#fff"></div>
<div class="t" style="left:98.00px;top:318px;font-size:25.3px;line-height:28px;color:#367ae6;font-weight:bold;">8</div>
<div class="t" style="left:176.75px;top:317px;font-size:28px;line-height:31px;color:#3a5d86;letter-spacing:0.330px;">Active</div>
<div class="a" style="left:262px;top:313px;width:41px;height:35.75px;border-radius:18px;background:#51504f"></div>
<div class="t" style="left:274.50px;top:318px;font-size:25.3px;line-height:28px;color:#fff;font-weight:bold;">8</div>
<div class="t" style="left:351.75px;top:317px;font-size:28px;line-height:31px;color:#3a5d86;letter-spacing:0.217px;">Paused</div>
<div class="a" style="left:455px;top:313px;width:41px;height:35.75px;border-radius:18px;background:#51504f"></div>
<div class="t" style="left:467.30px;top:318px;font-size:25.3px;line-height:28px;color:#fff;font-weight:bold;">0</div>
<div class="a" style="left:597px;top:298px;width:379.5px;height:67.5px;border:2px solid #ccc;border-radius:8px;background:#fff"></div>
<div class="a" style="left:800px;top:298px;width:2px;height:67.5px;background:#ccc"></div>
<div class="t" style="left:622.50px;top:317px;font-size:28px;line-height:31px;color:#3a5d86;letter-spacing:-0.050px;">Running</div>
<div class="a" style="left:735px;top:313px;width:40.5px;height:35.75px;border-radius:18px;background:#51504f"></div>
<div class="t" style="left:747.05px;top:318px;font-size:25.3px;line-height:28px;color:#fff;font-weight:bold;">0</div>
<div class="t" style="left:825.50px;top:317px;font-size:28px;line-height:31px;color:#3a5d86;letter-spacing:-0.192px;">Failed</div>
<div class="a" style="left:909.25px;top:313px;width:42px;height:35.75px;border-radius:18px;background:#51504f"></div>
<div class="t" style="left:922.17px;top:318px;font-size:25.3px;line-height:28px;color:#fff;font-weight:bold;">2</div>
<div class="a" style="left:1071px;top:300px;width:359.5px;height:64px;border:2px solid #9b9b9b;border-radius:8px;background:#fff"></div>
<div class="t" style="left:1082.50px;top:317px;font-size:28px;line-height:31px;color:#777;letter-spacing:0.116px;">Filter DAGs by tag</div>
<div class="a" style="left:1546px;top:298px;width:559.5px;height:67.5px;border:2px solid #ccc;border-radius:8px;background:#fff;box-shadow:inset 0 2px 2px rgba(0,0,0,.075)"></div>
<div class="t" style="left:1571.13px;top:317px;font-size:28px;line-height:31px;color:#999;letter-spacing:-0.089px;">Search DAGs</div>
<div class="a" style="left:2296px;top:310.00px;width:68px;height:44px;border-radius:22px;background:#c4c3c2"><div class="a" style="left:4px;top:4px;width:36px;height:36px;border-radius:18px;background:#ececec"></div></div>
<div class="t" style="left:2372.25px;top:315px;font-size:28px;line-height:31px;color:#51504f;letter-spacing:0.137px;">Auto-refresh</div>
<div class="a" style="left:2547px;top:300px;width:83.5px;height:63.5px;border:2px solid #ccc;border-radius:8px;background:#fff"></div>
<svg class="a" style="left:2569.40px;top:310.10px" width="40" height="40" viewBox="0 0 24 24"><path fill="#3a5d86" d="M17.65 6.35C16.2 4.9 14.21 4 12 4c-4.42 0-7.99 3.58-7.99 8s3.57 8 7.99 8c3.73 0 6.84-2.55 7.73-6h-2.08c-.82 2.33-3.04 4-5.65 4-3.31 0-6-2.69-6-6s2.69-6 6-6c1.66 0 3.14.69 4.22 1.78L13 11h7V4l-2.35 2.35z"/></svg>
<div class="t" style="left:20.95px;top:180px;font-size:62px;line-height:69px;color:#51504f;font-weight:bold;letter-spacing:-3.588px;">DAGs</div>
<div class="a" style="left:-60px;top:0;width:2780px;height:122.5px;background:#fff;box-shadow:0 4px 30px rgba(0,0,0,.185)"></div>
<svg class="a" style="left:51.25px;top:20.55px" width="69.75" height="69.6" viewBox="0 0 58.905 58.905" preserveAspectRatio="none"><path transform="rotate(90 29.44 29.44) translate(-1346.876 -849.856)" fill="#3679e5" d="M1405.512,908.489l-28.893-28.187a.521.521,0,0,0-.667-.063c-2.393,1.715-2.808,4.877-4.416,6.049-4.763,3.472-7.459,4.353-7.292,5.845a.456.456,0,0,0,.143.27l10.438,10.182c6,5.858,19.225,6.7,30.3,6.852A.552.552,0,0,0,1405.512,908.489Z"/><path transform="rotate(0 29.44 29.44) translate(-1346.876 -849.856)" fill="#4aa651" d="M1405.512,908.489l-28.893-28.187a.521.521,0,0,0-.667-.063c-2.393,1.715-2.808,4.877-4.416,6.049-4.763,3.472-7.459,4.353-7.292,5.845a.456.456,0,0,0,.143.27l10.438,10.182c6,5.858,19.225,6.7,30.3,6.852A.552.552,0,0,0,1405.512,908.489Z"/><path transform="rotate(270 29.44 29.44) translate(-1346.876 -849.856)" fill="#5bc3d0" d="M1405.512,908.489l-28.893-28.187a.521.521,0,0,0-.667-.063c-2.393,1.715-2.808,4.877-4.416,6.049-4.763,3.472-7.459,4.353-7.292,5.845a.456.456,0,0,0,.143.27l10.438,10.182c6,5.858,19.225,6.7,30.3,6.852A.552.552,0,0,0,1405.512,908.489Z"/><path transform="rotate(180 29.44 29.44) translate(-1346.876 -849.856)" fill="#d2462f" d="M1405.512,908.489l-28.893-28.187a.521.521,0,0,0-.667-.063c-2.393,1.715-2.808,4.877-4.416,6.049-4.763,3.472-7.459,4.353-7.292,5.845a.456.456,0,0,0,.143.27l10.438,10.182c6,5.858,19.225,6.7,30.3,6.852A.552.552,0,0,0,1405.512,908.489Z"/><path transform="rotate(0 29.44 29.44) translate(-1345.96 -850.233)" fill="#60d06b" d="M1373.909,902.252c-3.28-3.2-4.8-9.53,1.486-22.583-10.219,4.567-13.8,10.57-12.039,12.289Z"/><path transform="rotate(270 29.44 29.44) translate(-1345.96 -850.233)" fill="#68dcea" d="M1373.909,902.252c-3.28-3.2-4.8-9.53,1.486-22.583-10.219,4.567-13.8,10.57-12.039,12.289Z"/><path transform="rotate(180 29.44 29.44) translate(-1345.96 -850.233)" fill="#ef8163" d="M1373.909,902.252c-3.28-3.2-4.8-9.53,1.486-22.583-10.219,4.567-13.8,10.57-12.039,12.289Z"/><path transform="rotate(90 29.44 29.44) translate(-1345.96 -850.233)" fill="#54aff6" d="M1373.909,902.252c-3.28-3.2-4.8-9.53,1.486-22.583-10.219,4.567-13.8,10.57-12.039,12.289Z"/><circle cx="29.07" cy="29.06" r="0.95" fill="#4a4848"/></svg>
<div class="t" style="left:128.23px;top:38px;font-size:33.7px;line-height:37px;color:#51504f;letter-spacing:1.267px;-webkit-text-stroke:0;">Airflow</div>
<div class="t" style="left:317.93px;top:45px;font-size:28px;line-height:31px;color:#51504f;font-weight:bold;letter-spacing:0.110px;">DAGs</div>
<div class="t" style="left:455.05px;top:45px;font-size:28px;line-height:31px;color:#51504f;font-weight:bold;letter-spacing:-0.086px;">Cluster Activity</div>
<div class="t" style="left:718.33px;top:45px;font-size:28px;line-height:31px;color:#51504f;font-weight:bold;letter-spacing:0.284px;">Datasets</div>
<div class="t" style="left:896.84px;top:45px;font-size:28px;line-height:31px;color:#51504f;font-weight:bold;letter-spacing:-0.098px;">Security</div>
<div class="a" style="left:1010.3px;top:58.75px;width:0;height:0;border-left:8.0px solid transparent;border-right:8.0px solid transparent;border-top:8px solid #e3d7e7"></div>
<div class="t" style="left:1086.93px;top:45px;font-size:28px;line-height:31px;color:#51504f;font-weight:bold;letter-spacing:-0.093px;">Browse</div>
<div class="a" style="left:1191px;top:58.75px;width:0;height:0;border-left:8.0px solid transparent;border-right:8.0px solid transparent;border-top:8px solid #e3d7e7"></div>
<div class="t" style="left:1266.60px;top:45px;font-size:28px;line-height:31px;color:#51504f;font-weight:bold;letter-spacing:-0.305px;">Admin</div>
<div class="a" style="left:1357px;top:58.75px;width:0;height:0;border-left:8.0px solid transparent;border-right:8.0px solid transparent;border-top:8px solid #e3d7e7"></div>
<div class="t" style="left:1432.68px;top:45px;font-size:28px;line-height:31px;color:#51504f;font-weight:bold;letter-spacing:0.384px;">Docs</div>
<div class="a" style="left:1506px;top:58.75px;width:0;height:0;border-left:8.0px solid transparent;border-right:8.0px solid transparent;border-top:8px solid #e3d7e7"></div>
<div class="t" style="left:2308.64px;top:45px;font-size:28px;line-height:31px;color:#51504f;font-weight:bold;letter-spacing:0.043px;">18:50 UTC</div>
<div class="a" style="left:2457px;top:58.75px;width:0;height:0;border-left:8.0px solid transparent;border-right:8.0px solid transparent;border-top:8px solid #e3d7e7"></div>
<div class="a" style="left:2533px;top:33px;width:60px;height:60px;border-radius:30px;background:#c7dcf8"></div>
<div class="t" style="left:2543.89px;top:46px;font-size:28.5px;line-height:32px;color:#2f74e0;font-weight:bold;letter-spacing:0.562px;">PP</div>
<div class="a" style="left:2605.3px;top:58.75px;width:0;height:0;border-left:8.0px solid transparent;border-right:8.0px solid transparent;border-top:8px solid #e3d7e7"></div>
</body></html>
